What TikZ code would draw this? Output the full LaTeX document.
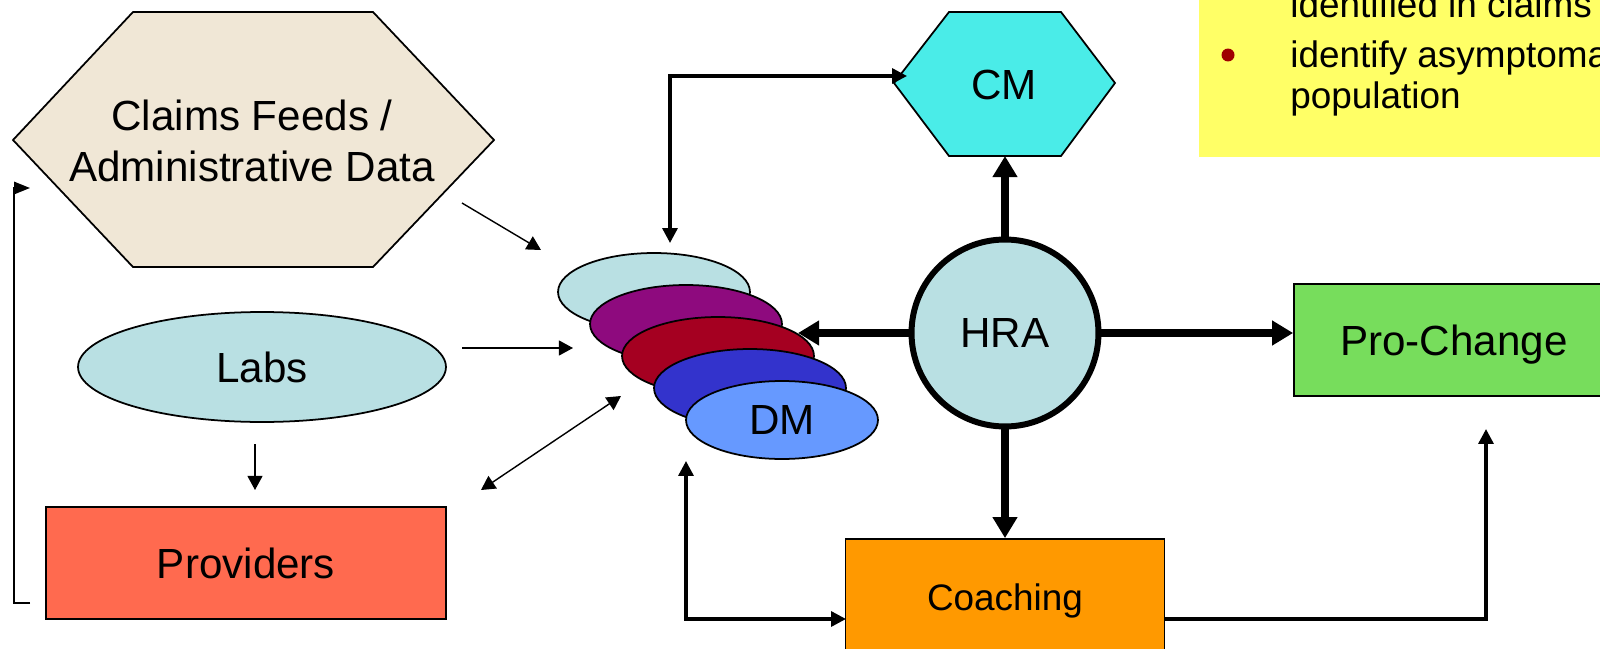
\documentclass[tikz,border=0pt]{standalone}
\usepackage{fontspec}
\setmainfont{Liberation Sans}
\usetikzlibrary{arrows.meta,shapes.geometric}
\definecolor{beige}{HTML}{F0E7D6}
\definecolor{paleteal}{HTML}{B9E0E3}
\definecolor{cmcyan}{HTML}{4AECE8}
\definecolor{provred}{HTML}{FF6A4F}
\definecolor{progreen}{HTML}{77DD5C}
\definecolor{coachorange}{HTML}{FF9900}
\definecolor{notey}{HTML}{FFFF66}
\definecolor{dmpurple}{HTML}{8E0A7E}
\definecolor{dmred}{HTML}{A50021}
\definecolor{dmblue}{HTML}{3333CC}
\definecolor{dmlight}{HTML}{6699FF}
\definecolor{bulletred}{HTML}{A00000}
\begin{document}
\begin{tikzpicture}[x=0.02cm,y=-0.02cm,
    txt/.style={font=\fontsize{24}{29}\selectfont},
    box/.style={draw,line width=1pt,txt,text depth=0pt},
    oval/.style={ellipse,draw,line width=1pt,txt},
    dmoval/.style={oval,minimum width=3.84cm,minimum height=1.56cm},
    thinarrow/.style={line width=0.8pt,-{Triangle[length=8pt,width=8.5pt]}},
    midarrow/.style={line width=1.9pt,-{Triangle[length=8.5pt,width=8.5pt]}},
    bigarrow/.style={line width=4.2pt,-{Triangle[length=12pt,width=13.5pt]}}]
    \useasboundingbox (0,0) rectangle (1600,649);
    \clip (0,0) rectangle (1600,649);
    % note box, cut by the page edge
    \fill[notey] (1199,-5) rectangle (1610,157);
    \node[anchor=base west,font=\fontsize{21}{25}\selectfont,inner sep=0pt] (note1) at (1290,17) {identified in claims};
    \node[anchor=base west,font=\fontsize{21}{25}\selectfont,inner sep=0pt] (note2) at (1290,67) {identify asymptomatic};
    \node[anchor=base west,font=\fontsize{21}{25}\selectfont,inner sep=0pt] (note3) at (1290,108) {population};
    \fill[bulletred] (1228,55) circle[radius=0.13cm];
    % hexagons
    \filldraw[fill=beige,line width=1pt] (13,140) -- (133,12) -- (373,12) -- (494,140) -- (373,267) -- (133,267) -- cycle;
    \node[txt,align=center] (claims) at (252,141) {Claims Feeds /\\Administrative Data};
    \filldraw[fill=cmcyan,line width=1pt] (894,83) -- (949,12) -- (1061,12) -- (1115,83) -- (1061,156) -- (949,156) -- cycle;
    \node[txt] (cm) at (1004,85) {CM};
    \node[oval,fill=paleteal,minimum width=7.36cm,minimum height=2.2cm] (labs) at (262,367) {Labs};
    \node[box,fill=provred,minimum width=8cm,minimum height=2.24cm] (prov) at (246,563) {Providers};
    % DM stack
    \node[dmoval,fill=paleteal] (dma) at (654,292) {};
    \node[dmoval,fill=dmpurple] (dmb) at (686,324) {};
    \node[dmoval,fill=dmred] (dmc) at (718,356) {};
    \node[dmoval,fill=dmblue] (dmd) at (750,388) {};
    \node[dmoval,fill=dmlight] (dm) at (782,420) {DM};
    \node[circle,draw,line width=3.4pt,fill=paleteal,minimum size=3.74cm,txt] (hra) at (1005,333) {HRA};
    \node[box,fill=progreen,minimum width=6.4cm,minimum height=2.24cm] (pro) at (1454,340) {Pro-Change};
    \node[box,fill=coachorange,minimum width=6.38cm,minimum height=2.32cm,font=\fontsize{21}{25}\selectfont] (coach) at (1005,597) {Coaching};
    \coordinate (claimsout) at (462,203);
    \coordinate (dmin1) at (541,250);
    \coordinate (labsout) at (462,348);
    \coordinate (dmin2) at (573,348);
    \coordinate (provin) at (481,490);
    \coordinate (dmin3) at (621,396);
    \coordinate (labsdown) at (255,444);
    \coordinate (provtop) at (255,490);
    \coordinate (fbstart) at (30,603);
    \coordinate (fbend) at (30,188);
    \coordinate (dmtop) at (670,243);
    \coordinate (cmin) at (907,76);
    \coordinate (cmbot) at (1005,156);
    \coordinate (dmtip) at (798,333);
    \coordinate (dmbot) at (686,461);
    \coordinate (coachl) at (846,619);
    \coordinate (coachr) at (1165,619);
    \coordinate (protip) at (1486,429);
    \draw[thinarrow] (claimsout) -- (dmin1);
    \draw[thinarrow] (labsout) -- (dmin2);
    \draw[thinarrow,{Triangle[length=8pt,width=8.5pt]}-{Triangle[length=8pt,width=8.5pt]}] (provin) -- (dmin3);
    \draw[thinarrow] (labsdown) -- (provtop);
    \draw[line width=1pt,-{Triangle[length=9pt,width=7pt]}] (fbstart) -- ++(-16,0) |- (fbend);
    \draw[midarrow,{Triangle[length=8.5pt,width=8.5pt]}-{Triangle[length=8.5pt,width=8.5pt]}] (dmtop) |- (cmin);
    \draw[midarrow,{Triangle[length=8.5pt,width=8.5pt]}-{Triangle[length=8.5pt,width=8.5pt]}] (dmbot) |- (coachl);
    \draw[midarrow] (coachr) -| (protip);
    \draw[bigarrow] (hra) -- (cmbot);
    \draw[bigarrow] (hra.west) -- (dmtip);
    \draw[bigarrow] (hra.east) -- (hra.east -| pro.west);
    \draw[bigarrow] (hra.south) -- (coach.north);
\end{tikzpicture}
\end{document}
